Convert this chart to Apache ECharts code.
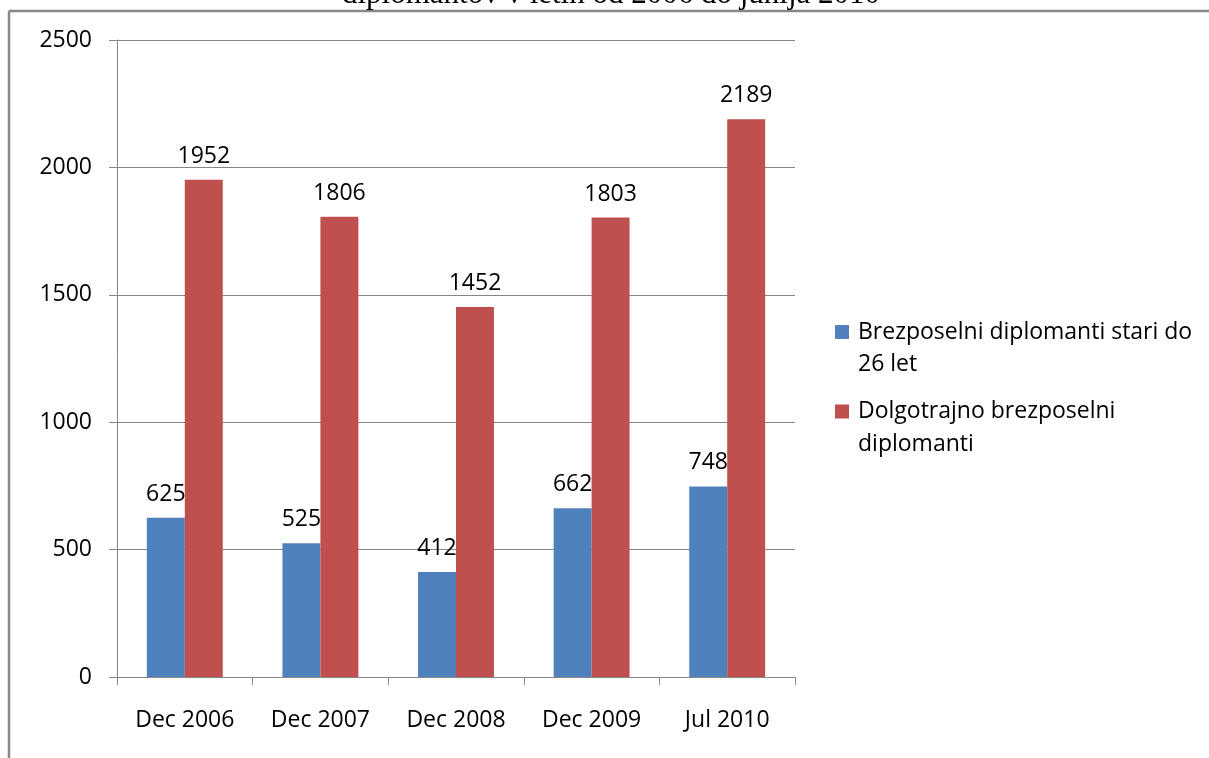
<!DOCTYPE html>
<html>
<head>
<meta charset="utf-8">
<script src="https://cdn.jsdelivr.net/npm/echarts@6/dist/echarts.min.js"></script>
<style>
  html, body { margin: 0; padding: 0; background: #ffffff; }
  #chart { width: 1209px; height: 758px; }
</style>
</head>
<body>
<div id="chart"></div>
<script>
// Unemployed graduates, Dec 2006 – Jul 2010
const categories = ['Dec 2006', 'Dec 2007', 'Dec 2008', 'Dec 2009', 'Jul 2010'];
const youngGraduates = [625, 525, 412, 662, 748];
const longTermGraduates = [1952, 1806, 1452, 1803, 2189];
const seriesNames = ['Brezposelni diplomanti stari do 26 let', 'Dolgotrajno brezposelni diplomanti'];
// A leading blank line keeps the first text line level with the legend swatch
const legendLabels = ['\nBrezposelni diplomanti stari do\n26 let', '\nDolgotrajno brezposelni\ndiplomanti'];
const titleText = 'diplomantov v letih od 2006 do junija 2010';

const FONT = '"Open Sans", sans-serif';
const GRID_COLOR = '#868686';

const chart = echarts.init(document.getElementById('chart'), null, { renderer: 'canvas' });

function legendFor(i, top, lineHeight) {
  return {
    data: [seriesNames[i]],
    left: 835,
    top: top,
    padding: 0,
    orient: 'vertical',
    icon: 'rect',
    itemWidth: 14,
    itemHeight: 14,
    selectedMode: false,
    formatter: () => legendLabels[i],
    textStyle: {
      fontFamily: FONT,
      fontSize: 23,
      color: '#000',
      lineHeight: lineHeight,
      padding: [0, 0, 0, 4]
    }
  };
}

chart.setOption({
  animation: false,
  backgroundColor: '#ffffff',
  title: {
    text: titleText,
    left: 611,
    textAlign: 'center',
    top: -21,
    padding: 0,
    textStyle: {
      fontFamily: '"Liberation Serif", serif',
      fontWeight: 'normal',
      fontSize: 31,
      color: '#000'
    }
  },
  graphic: [
    { type: 'line', shape: { x1: 9, y1: 11, x2: 1209, y2: 11 }, style: { stroke: '#888888', lineWidth: 2.5 } },
    { type: 'line', shape: { x1: 9, y1: 11, x2: 9, y2: 758 }, style: { stroke: '#888888', lineWidth: 2.5 } }
  ],
  legend: [legendFor(0, 284, 32), legendFor(1, 362, 33)],
  grid: { left: 117, right: 414, top: 40, bottom: 81, containLabel: false },
  xAxis: {
    type: 'category',
    data: categories,
    axisLine: { lineStyle: { color: GRID_COLOR, width: 1 } },
    axisTick: { show: true, length: 8, lineStyle: { color: GRID_COLOR } },
    axisLabel: { fontFamily: FONT, fontSize: 23, color: '#000', margin: 32 }
  },
  yAxis: {
    type: 'value',
    min: 0,
    max: 2500,
    interval: 500,
    axisLine: { show: true, lineStyle: { color: GRID_COLOR, width: 1 } },
    axisTick: { show: true, length: 8, lineStyle: { color: GRID_COLOR } },
    axisLabel: { fontFamily: FONT, fontSize: 23, color: '#000', margin: 25, formatter: (v) => String(v) },
    splitLine: { lineStyle: { color: GRID_COLOR, width: 1 } }
  },
  series: [
    {
      name: seriesNames[0],
      type: 'bar',
      data: youngGraduates,
      barGap: '0%',
      barCategoryGap: '44%',
      itemStyle: { color: '#4F81BD' },
      label: { show: true, position: 'top', distance: 12, fontFamily: FONT, fontSize: 23, color: '#000' }
    },
    {
      name: seriesNames[1],
      type: 'bar',
      data: longTermGraduates,
      barGap: '0%',
      barCategoryGap: '44%',
      itemStyle: { color: '#C0504D' },
      label: { show: true, position: 'top', distance: 12, fontFamily: FONT, fontSize: 23, color: '#000' }
    }
  ]
});
</script>
</body>
</html>
